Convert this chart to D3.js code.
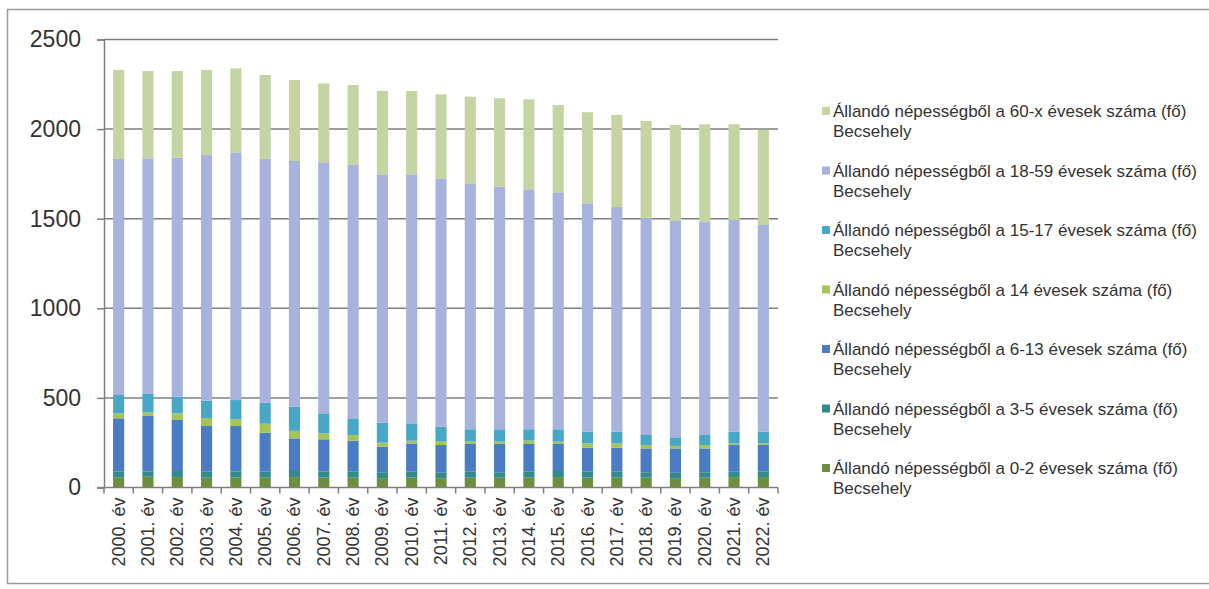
<!DOCTYPE html>
<html>
<head>
<meta charset="utf-8">
<script src="https://cdn.jsdelivr.net/npm/d3@7"></script>
<style>
  html, body { margin: 0; padding: 0; background: #ffffff; }
  svg { display: block; }
</style>
</head>
<body>
<svg id="chart" width="1209" height="589"></svg>
<script>
// ---- data ----
const years = ["2000. év","2001. év","2002. év","2003. év","2004. év","2005. év","2006. év","2007. év","2008. év","2009. év","2010. év","2011. év","2012. év","2013. év","2014. év","2015. év","2016. év","2017. év","2018. év","2019. év","2020. év","2021. év","2022. év"];
const age0_2   = [57, 60, 58, 55, 55, 55, 58, 55, 55, 52, 55, 52, 55, 55, 55, 58, 55, 55, 55, 52, 55, 58, 58];
const age3_5   = [33, 30, 34, 33, 35, 33, 34, 35, 33, 33, 33, 33, 33, 30, 33, 34, 35, 33, 30, 30, 30, 30, 32];
const age6_13  = [296, 309, 285, 255, 253, 218, 182, 179, 173, 143, 155, 152, 155, 158, 155, 151, 132, 134, 133, 136, 133, 149, 147];
const age14    = [28, 20, 37, 45, 38, 50, 42, 33, 32, 22, 18, 19, 13, 13, 19, 13, 24, 24, 19, 14, 19, 9, 9];
const age15_17 = [102, 106, 93, 97, 107, 117, 135, 112, 93, 112, 97, 83, 69, 69, 63, 69, 66, 66, 56, 48, 56, 66, 66];
const age18_59 = [1317, 1312, 1333, 1370, 1382, 1360, 1371, 1401, 1414, 1386, 1390, 1386, 1372, 1354, 1339, 1322, 1274, 1253, 1211, 1207, 1188, 1181, 1153];
const age60x   = [497, 487, 484, 475, 469, 469, 452, 440, 446, 465, 465, 469, 484, 493, 502, 487, 508, 514, 541, 536, 546, 534, 530];
const seriesNames = [
  "Állandó népességből a 0-2 évesek száma (fő) Becsehely",
  "Állandó népességből a 3-5 évesek száma (fő) Becsehely",
  "Állandó népességből a 6-13 évesek száma (fő) Becsehely",
  "Állandó népességből a 14 évesek száma (fő) Becsehely",
  "Állandó népességből a 15-17 évesek száma (fő) Becsehely",
  "Állandó népességből a 18-59 évesek száma (fő) Becsehely",
  "Állandó népességből a 60-x évesek száma (fő) Becsehely"
];
const yTicks = [0, 500, 1000, 1500, 2000, 2500];

// ---- build table ----
const seriesArrays = [age0_2, age3_5, age6_13, age14, age15_17, age18_59, age60x];
const keys = seriesNames.map((_, i) => "s" + i);
const table = years.map((y, j) => {
  const row = { year: y };
  keys.forEach((k, i) => row[k] = seriesArrays[i][j]);
  return row;
});
const colors = ["#6b8f3c", "#318a8c", "#4a7cc4", "#a3c456", "#48a6c6", "#a7b3dc", "#c4d5a3"];

// ---- layout ----
const svg = d3.select("#chart");
const plot = { left: 104, right: 778, top: 39.5, bottom: 487.5 };

// outer frame
svg.append("rect")
  .attr("x", 7.5).attr("y", 9.5)
  .attr("width", 1400).attr("height", 574)
  .attr("fill", "none").attr("stroke", "#9a9a9a").attr("stroke-width", 1.5);

const x = d3.scaleBand().domain(years).range([plot.left, plot.right]).paddingInner(0.62).paddingOuter(0.31);
const xOuter = d3.scaleBand().domain(years).range([plot.left, plot.right]).padding(0);
const y = d3.scaleLinear().domain([0, 2500]).range([plot.bottom, plot.top]);

// gridlines
svg.append("g").selectAll("line").data(yTicks.filter(t => t > 0)).join("line")
  .attr("x1", plot.left).attr("x2", plot.right)
  .attr("y1", d => y(d)).attr("y2", d => y(d))
  .attr("stroke", "#7f7f7f").attr("stroke-width", 1.5);

// bars
const stacked = d3.stack().keys(keys)(table);
svg.append("g").selectAll("g").data(stacked).join("g")
  .attr("fill", (d, i) => colors[i])
  .selectAll("rect").data(d => d).join("rect")
  .attr("x", d => x(d.data.year))
  .attr("width", x.bandwidth())
  .attr("y", d => y(d[1]))
  .attr("height", d => y(d[0]) - y(d[1]));

// y axis
const yAxis = d3.axisLeft(y).tickValues(yTicks).tickSize(7).tickPadding(16).tickFormat(d3.format("d"));
const gy = svg.append("g").attr("transform", `translate(${plot.left},0)`).call(yAxis);
gy.select(".domain").attr("stroke", "#7f7f7f").attr("stroke-width", 1.5);
gy.selectAll(".tick line").attr("stroke", "#7f7f7f").attr("stroke-width", 1.5);
gy.selectAll(".tick text")
  .attr("font-family", "'Liberation Sans', Arial, sans-serif")
  .attr("font-size", 23).attr("fill", "#333");

// x axis (ticks between categories)
const gx = svg.append("g").attr("transform", `translate(0,${plot.bottom})`);
gx.append("line").attr("x1", plot.left - 7).attr("x2", plot.right)
  .attr("stroke", "#7f7f7f").attr("stroke-width", 1.5);
const bounds = years.map(d => xOuter(d)).concat([plot.right]);
gx.selectAll("line.tk").data(bounds).join("line").attr("class", "tk")
  .attr("x1", d => d).attr("x2", d => d).attr("y1", 0).attr("y2", 6)
  .attr("stroke", "#7f7f7f").attr("stroke-width", 1.5);
gx.selectAll("text").data(years).join("text")
  .attr("transform", d => `translate(${x(d) + x.bandwidth() / 2 + 6},${10}) rotate(-90)`)
  .attr("text-anchor", "end")
  .attr("font-family", "'Liberation Sans', Arial, sans-serif")
  .attr("font-size", 18).attr("fill", "#333")
  .text(d => d);

// legend (top = last series)
const legendOrder = d3.range(seriesNames.length).reverse();
const lg = svg.append("g");
legendOrder.forEach((si, k) => {
  const cy = 111 + k * 59.5;
  const words = seriesNames[si].split(" Becsehely");
  lg.append("rect").attr("x", 822).attr("y", cy - 4).attr("width", 8).attr("height", 8).attr("fill", colors[si]);
  const t = lg.append("text")
    .attr("font-family", "'Liberation Sans', Arial, sans-serif")
    .attr("font-size", 17).attr("fill", "#333");
  t.append("tspan").attr("x", 833).attr("y", cy + 6).text(words[0]);
  t.append("tspan").attr("x", 833).attr("y", cy + 26).text("Becsehely");
});
</script>
</body>
</html>
